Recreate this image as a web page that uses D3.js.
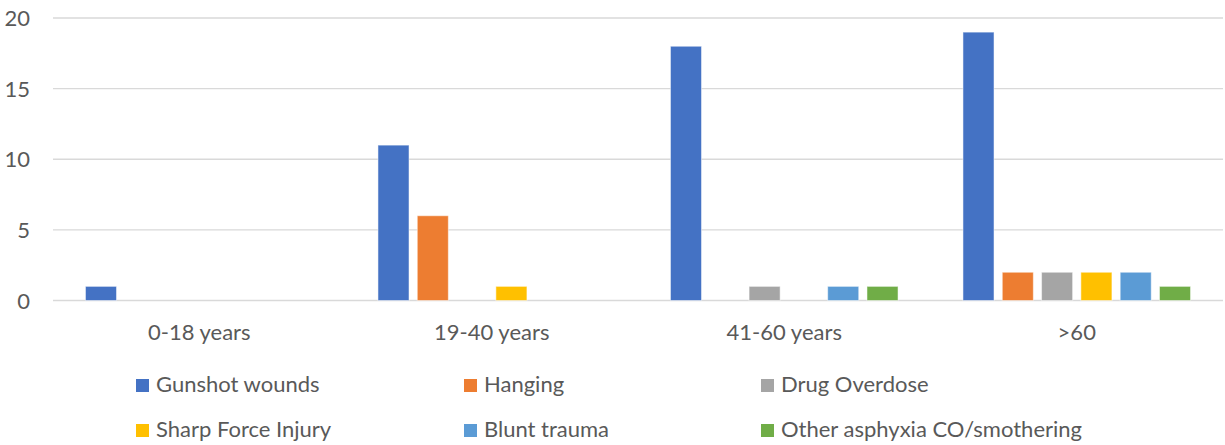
<!DOCTYPE html>
<html>
<head>
<meta charset="utf-8">
<script src="https://cdn.jsdelivr.net/npm/d3@7/dist/d3.min.js"></script>
<style>
  html, body { margin: 0; padding: 0; background: #fff; }
  svg { display: block; }
  text { font-family: Lato, "Open Sans", sans-serif; fill: #595959; }
</style>
</head>
<body>
<svg id="chart" width="1225" height="445"></svg>
<script>
const categories = ["0-18 years", "19-40 years", "41-60 years", ">60"];
const seriesNames = ["Gunshot wounds", "Hanging", "Drug Overdose", "Sharp Force Injury", "Blunt trauma", "Other asphyxia CO/smothering"];
const gunshot = [1, 11, 18, 19];
const hanging = [0, 6, 0, 2];
const drugOverdose = [0, 0, 1, 2];
const sharpForce = [0, 1, 0, 2];
const bluntTrauma = [0, 0, 1, 2];
const otherAsphyxia = [0, 0, 1, 1];
const yTicks = [0, 5, 10, 15, 20];
const colors = ["#4472C4", "#ED7D31", "#A5A5A5", "#FFC000", "#5B9BD5", "#70AD47"];

const seriesValues = [gunshot, hanging, drugOverdose, sharpForce, bluntTrauma, otherAsphyxia];
const series = seriesNames.map((name, i) => ({ name, values: seriesValues[i], color: colors[i] }));

const svg = d3.select("#chart");
const plot = { left: 53, right: 1223, top: 18, bottom: 300.5 };

const x0 = d3.scaleBand().domain(categories).range([plot.left, plot.right]).paddingInner(0).paddingOuter(0);
const x1 = d3.scaleBand().domain(seriesNames).range([0, x0.bandwidth()]).paddingInner(0.21).paddingOuter(0.826);
const y = d3.scaleLinear().domain([0, 20]).range([plot.bottom, plot.top]);

// gridlines
svg.append("g")
  .selectAll("line")
  .data(yTicks)
  .join("line")
  .attr("x1", plot.left).attr("x2", plot.right)
  .attr("y1", d => y(d)).attr("y2", d => y(d))
  .attr("stroke", "#D9D9D9").attr("stroke-width", 1.4);

// y axis labels
const yAxis = d3.axisLeft(y).tickValues(yTicks).tickSize(0).tickPadding(0);
const gy = svg.append("g").attr("transform", "translate(30,0)").call(yAxis);
gy.select(".domain").remove();
gy.selectAll("text").style("font-size", "22px").attr("fill", "#595959").attr("dy", "0.35em").style("font-family", "Lato, 'Open Sans', sans-serif");

// bars
const groups = svg.append("g")
  .selectAll("g")
  .data(categories)
  .join("g")
  .attr("transform", d => `translate(${x0(d)},0)`);

groups.selectAll("rect")
  .data((c, ci) => series.map(s => ({ name: s.name, value: s.values[ci], color: s.color })).filter(d => d.value > 0))
  .join("rect")
  .attr("x", d => x1(d.name))
  .attr("width", x1.bandwidth())
  .attr("y", d => y(d.value))
  .attr("height", d => y(0) - y(d.value))
  .attr("fill", d => d.color)
  .attr("stroke", "#ffffff").attr("stroke-opacity", 0.5).attr("stroke-width", 1);

// x axis labels
const xAxis = d3.axisBottom(x0).tickSize(0).tickPadding(0);
const gx = svg.append("g").attr("transform", `translate(0,${plot.bottom + 39})`).call(xAxis);
gx.select(".domain").remove();
gx.selectAll("text").style("font-size", "22px").attr("fill", "#595959").attr("dy", 0).style("font-family", "Lato, 'Open Sans', sans-serif");

// legend
const legendCols = [136, 464, 761];
const legendRows = [392, 437];
const legend = svg.append("g")
  .selectAll("g")
  .data(series)
  .join("g")
  .attr("transform", (d, i) => `translate(${legendCols[i % 3]},${legendRows[Math.floor(i / 3)]})`);
legend.append("rect")
  .attr("x", 0).attr("y", -13).attr("width", 13).attr("height", 13)
  .attr("fill", d => d.color);
legend.append("text")
  .attr("x", 20).attr("y", 0)
  .style("font-size", "22px")
  .text(d => d.name);
</script>
</body>
</html>
